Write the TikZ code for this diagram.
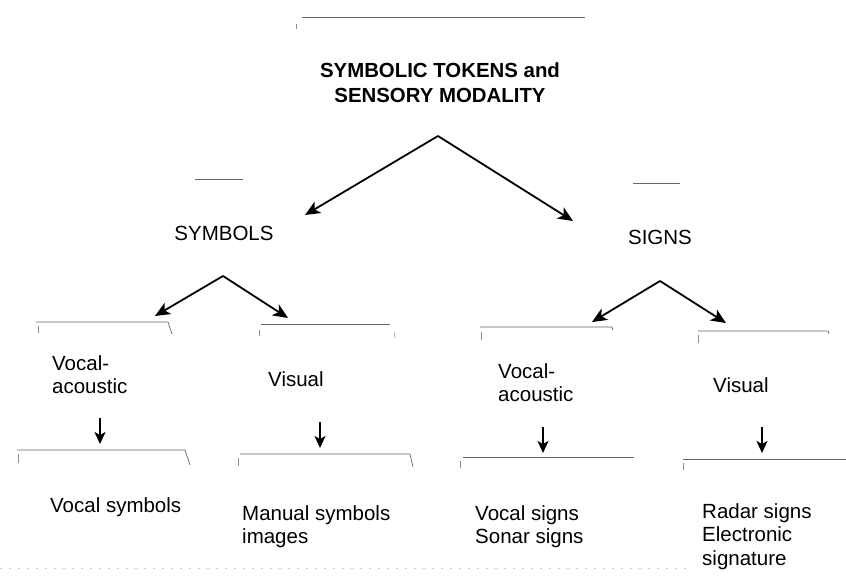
\documentclass[tikz,border=0pt]{standalone}
\usepackage{fontspec}
\setmainfont{Liberation Sans}
\usetikzlibrary{arrows.meta}

\tikzset{
  label/.style={inner sep=0pt, align=left, font=\fontsize{20.5}{23.5}\selectfont},
  heading/.style={inner sep=0pt, align=center, font=\bfseries\fontsize{20.4}{25}\selectfont},
  fork/.style={line width=1.8pt, -{Stealth[length=15pt,width=13pt,inset=4pt]}},
  drop/.style={line width=1.7pt, -{Stealth[length=12pt,width=11pt,inset=3pt]}},
  rule/.style={draw=black!60, line width=0.7pt},
  stub/.style={draw=black!45, line width=0.5pt},
  speck/.style={draw=black!20, line width=0.6pt, dash pattern=on 2pt off 7pt}
}

\begin{document}
\begin{tikzpicture}[x=1pt, y=-1pt]
\useasboundingbox (0,0) rectangle (846,577);

% faint frame edges of the printed boxes
\draw[rule] (302,17) -- (585,17);
\draw[stub] (296,24) -- (296,29);
\draw[rule] (195,179) -- (243,179);
\draw[rule] (633,183) -- (680,183);

\draw[rule] (36,322) -- (168,322) -- (172,334);
\draw[stub] (38,326) -- (38,333);
\draw[rule] (261,324) -- (390,324);
\draw[stub] (259,330) -- (259,336);
\draw[stub] (394,332) -- (395,338);
\draw[rule] (480,327) -- (612,327) -- (613,330);
\draw[stub] (481,332) -- (481,340);
\draw[rule] (698,331) -- (828,331) -- (829,334);
\draw[stub] (698,335) -- (698,343);

\draw[rule] (17,450) -- (185,450) -- (190,465);
\draw[stub] (18,454) -- (18,463);
\draw[rule] (240,454) -- (410,454) -- (413,467);
\draw[stub] (238,458) -- (238,466);
\draw[rule] (463,457) -- (634,457);
\draw[stub] (460,461) -- (460,468);
\draw[rule] (683,459) -- (846,459);
\draw[stub] (683,463) -- (683,470);

\draw[speck] (0,568) -- (690,568);

% headings
\node[heading, anchor=north] (root) at (440,63)
  {SYMBOLIC TOKENS and\\SENSORY MODALITY};
\node[label, anchor=center] (symbols) at (224,233.5) {SYMBOLS};
\node[label, anchor=center] (signs) at (660,237) {SIGNS};

% second level
\node[label, anchor=north west] (symVoc) at (52,355) {Vocal-\\acoustic};
\node[label, anchor=north west] (symVis) at (268,371) {Visual};
\node[label, anchor=north west] (sigVoc) at (498,363) {Vocal-\\acoustic};
\node[label, anchor=north west] (sigVis) at (713,377) {Visual};

% third level
\node[label, anchor=north west] (symVocEx) at (50,497) {Vocal symbols};
\node[label, anchor=north west] (symVisEx) at (242,505) {Manual symbols\\images};
\node[label, anchor=north west] (sigVocEx) at (475,505) {Vocal signs\\Sonar signs};
\node[label, anchor=north west] (sigVisEx) at (702,503) {Radar signs\\Electronic\\signature};

% branch points and arrow ends
\coordinate (rootFork) at (438,136);
\coordinate (toSymbols) at (305,215);
\coordinate (toSigns) at (573,221);
\coordinate (symFork) at (223,276);
\coordinate (toSymVoc) at (155,316);
\coordinate (toSymVis) at (288,318);
\coordinate (sigFork) at (660,281);
\coordinate (toSigVoc) at (592,322);
\coordinate (toSigVis) at (726,323);

\coordinate (symVocOut) at (100,418);
\coordinate (symVocIn) at (100,444);
\coordinate (symVisOut) at (320,422);
\coordinate (symVisIn) at (320,448);
\coordinate (sigVocOut) at (543,427);
\coordinate (sigVocIn) at (543,453);
\coordinate (sigVisOut) at (762,427);
\coordinate (sigVisIn) at (762,453);

% connectors
\draw[fork] (rootFork) -- (toSymbols);
\draw[fork] (rootFork) -- (toSigns);
\draw[fork] (symFork) -- (toSymVoc);
\draw[fork] (symFork) -- (toSymVis);
\draw[fork] (sigFork) -- (toSigVoc);
\draw[fork] (sigFork) -- (toSigVis);

\draw[drop] (symVocOut) -- (symVocIn);
\draw[drop] (symVisOut) -- (symVisIn);
\draw[drop] (sigVocOut) -- (sigVocIn);
\draw[drop] (sigVisOut) -- (sigVisIn);
\end{tikzpicture}
\end{document}
